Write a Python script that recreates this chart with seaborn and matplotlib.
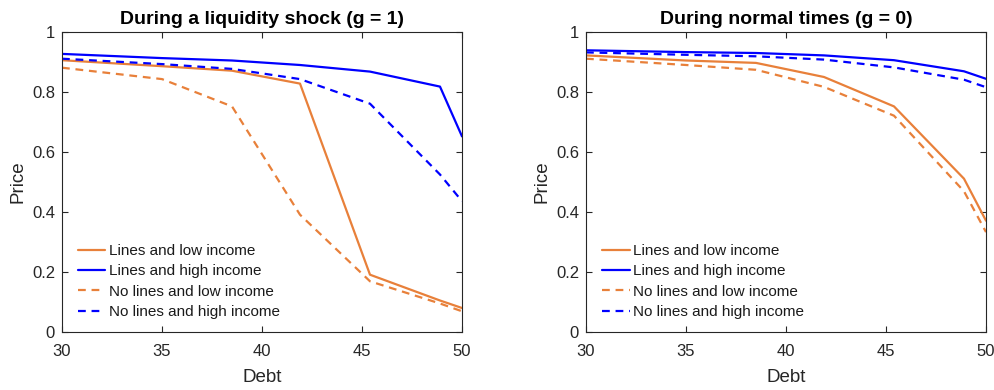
import numpy as np
import pandas as pd
import matplotlib
matplotlib.use("Agg")
import matplotlib.pyplot as plt
import seaborn as sns

debt = [30, 35, 38.5, 41.9, 45.4, 48.9, 50]

# During a liquidity shock (g = 1)
lines_low_g1 = [0.906, 0.886, 0.871, 0.828, 0.191, 0.105, 0.080]
lines_high_g1 = [0.927, 0.913, 0.905, 0.890, 0.868, 0.818, 0.652]
nolines_low_g1 = [0.881, 0.843, 0.752, 0.391, 0.169, 0.095, 0.069]
nolines_high_g1 = [0.911, 0.893, 0.877, 0.843, 0.761, 0.525, 0.436]

# During normal times (g = 0)
lines_low_g0 = [0.922, 0.905, 0.897, 0.850, 0.752, 0.511, 0.371]
lines_high_g0 = [0.939, 0.933, 0.930, 0.922, 0.906, 0.869, 0.844]
nolines_low_g0 = [0.911, 0.890, 0.874, 0.817, 0.721, 0.469, 0.333]
nolines_high_g0 = [0.932, 0.924, 0.919, 0.908, 0.882, 0.841, 0.816]

series_names = ["Lines and low income", "Lines and high income",
                "No lines and low income", "No lines and high income"]
titles = ["During a liquidity shock (g = 1)", "During normal times (g = 0)"]
x_ticks = [30, 35, 40, 45, 50]
y_ticks = [0, 0.2, 0.4, 0.6, 0.8, 1]
y_ticklabels = ["0", "0.2", "0.4", "0.6", "0.8", "1"]

sns.set_theme(style="white")
plt.rcParams["font.family"] = ["Liberation Sans", "DejaVu Sans"]

ORANGE = "#E8803A"
BLUE = "#0000FF"
palette = {series_names[0]: ORANGE, series_names[1]: BLUE,
           series_names[2]: ORANGE, series_names[3]: BLUE}
dashes = {series_names[0]: "", series_names[1]: "",
          series_names[2]: (3.5, 2.6), series_names[3]: (3.5, 2.6)}

def make_df(a, b, c, d):
    rows = []
    for name, vals in zip(series_names, [a, b, c, d]):
        for xv, yv in zip(debt, vals):
            rows.append({"Debt": xv, "Price": yv, "Series": name})
    return pd.DataFrame(rows)

dfs = [make_df(lines_low_g1, lines_high_g1, nolines_low_g1, nolines_high_g1),
       make_df(lines_low_g0, lines_high_g0, nolines_low_g0, nolines_high_g0)]

fig = plt.figure(figsize=(9.95, 3.9), dpi=100)
W, H = 995, 390
axes = [fig.add_axes([62 / W, (H - 332) / H, 400 / W, 300 / H]),
        fig.add_axes([586 / W, (H - 332) / H, 400 / W, 300 / H])]

for ax, df, title in zip(axes, dfs, titles):
    sns.lineplot(data=df, x="Debt", y="Price", hue="Series", style="Series",
                 palette=palette, dashes=dashes, hue_order=series_names,
                 style_order=series_names, linewidth=1.6, ax=ax, legend=True)
    ax.set_xlim(30, 50)
    ax.set_ylim(0, 1)
    ax.set_xticks(x_ticks)
    ax.set_yticks(y_ticks)
    ax.set_yticklabels(y_ticklabels)
    ax.tick_params(direction="in", length=4, width=0.8, bottom=True, left=True,
                   top=True, right=True, labelsize=12, colors="#262626")
    ax.tick_params(axis="x", pad=9)
    ax.tick_params(axis="y", pad=5)
    for s in ax.spines.values():
        s.set_color("#262626")
        s.set_linewidth(0.8)
        s.set_visible(True)
    ax.set_xlabel("Debt", fontsize=13.5, color="#262626", labelpad=7)
    ax.set_ylabel("Price", fontsize=13.5, color="#262626", labelpad=4)
    ax.set_title(title, fontsize=14, fontweight="bold", color="black", pad=6)
    leg = ax.legend(loc="lower left", bbox_to_anchor=(0.04, 0.043), frameon=False,
                    fontsize=11, handlelength=1.8, handletextpad=0.2,
                    labelspacing=0.42, borderpad=0, borderaxespad=0)
    for t in leg.get_texts():
        t.set_color("#1a1a1a")

fig.savefig("out.png", dpi=100)
